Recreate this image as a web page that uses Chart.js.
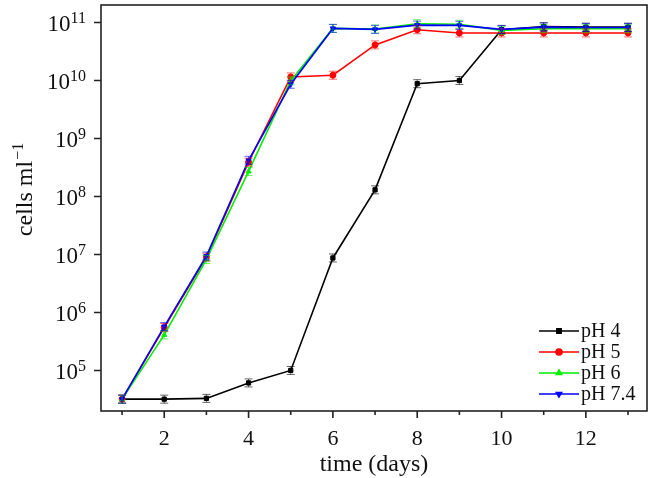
<!DOCTYPE html>
<html>
<head>
<meta charset="utf-8">
<script src="https://cdn.jsdelivr.net/npm/chart.js@4.4.1/dist/chart.umd.min.js"></script>
<style>
  html, body { margin:0; padding:0; background:#fff; }
  #wrap { width:652px; height:478px; position:relative; }
</style>
</head>
<body>
<div id="wrap"><canvas id="growth"></canvas></div>
<script>
// Datos (células por ml vs. días)
const days = [1, 2, 3, 4, 5, 6, 7, 8, 9, 10, 11, 12, 13];
const ph4  = [3.2e4, 3.2e4, 3.3e4, 6.1e4, 1.0e5, 8.7e6, 1.3e8, 8.8e9, 1.0e10, 7.5e10, 8.5e10, 8.3e10, 8.3e10];
const ph5  = [3.2e4, 5.5e5, 9.0e6, 3.9e8, 1.15e10, 1.23e10, 4.1e10, 7.5e10, 6.6e10, 6.6e10, 6.6e10, 6.6e10, 6.6e10];
const ph6  = [3.2e4, 4.1e5, 8.2e6, 2.7e8, 9.8e9, 7.9e10, 7.7e10, 9.5e10, 9.3e10, 7.3e10, 7.8e10, 7.8e10, 7.8e10];
const ph74 = [3.2e4, 5.7e5, 9.4e6, 4.2e8, 8.6e9, 7.9e10, 7.6e10, 9.0e10, 8.9e10, 7.6e10, 8.3e10, 8.2e10, 8.2e10];

const seriesNames = ['pH 4', 'pH 5', 'pH 6', 'pH 7.4'];
const xMajorTicks = [2, 4, 6, 8, 10, 12];
const xMinorTicks = [1, 3, 5, 7, 9, 11, 13];
const yTickExps = [5, 6, 7, 8, 9, 10, 11];

const SERIF = '"Liberation Serif", "Times New Roman", serif';

function pts(vals){ return days.map((d, i) => ({x: d, y: vals[i]})); }

const styles = [
  {color:'#000000', point:'rect', rot:0, order:3},
  {color:'#ff0000', point:'circle', rot:0, order:2},
  {color:'#00ee00', point:'triangle', rot:0, order:1},
  {color:'#0000ff', point:'triangle', rot:180, order:0}
];

const datasets = [ph4, ph5, ph6, ph74].map((vals, i) => ({
  label: seriesNames[i],
  data: pts(vals),
  borderColor: styles[i].color,
  backgroundColor: styles[i].color,
  borderWidth: 1.6,
  pointStyle: styles[i].point,
  rotation: styles[i].rot,
  pointRadius: 3,
  pointBorderWidth: 1,
  tension: 0,
  order: styles[i].order
}));

// pequeñas barras de error (tapas) sobre cada punto
const caps = {
  id: 'caps',
  afterDatasetsDraw(chart){
    const ctx = chart.ctx;
    ctx.save();
    ctx.lineWidth = 1;
    chart.getSortedVisibleDatasetMetas().slice().reverse().forEach(meta => {
      ctx.strokeStyle = chart.data.datasets[meta.index].borderColor;
      ctx.globalAlpha = 0.6;
      ctx.beginPath();
      meta.data.forEach(p => {
        ctx.moveTo(p.x - 4, p.y - 4); ctx.lineTo(p.x + 4, p.y - 4);
        ctx.moveTo(p.x - 4, p.y + 4); ctx.lineTo(p.x + 4, p.y + 4);
        ctx.moveTo(p.x, p.y - 4); ctx.lineTo(p.x, p.y + 4);
      });
      ctx.stroke();
    });
    ctx.restore();
  }
};

// Marco, ticks, etiquetas y leyenda dibujados a mano
const decor = {
  id: 'decor',
  afterDraw(chart){
    const {ctx, chartArea: ca, scales} = chart;
    const xs = scales.x, ys = scales.y;
    ctx.save();
    ctx.strokeStyle = '#222';
    ctx.lineWidth = 1.6;
    ctx.strokeRect(ca.left, ca.top, ca.right - ca.left, ca.bottom - ca.top);

    // ticks
    ctx.beginPath();
    xMajorTicks.forEach(v => { const px = xs.getPixelForValue(v); ctx.moveTo(px, ca.bottom); ctx.lineTo(px, ca.bottom + 7); });
    xMinorTicks.forEach(v => { const px = xs.getPixelForValue(v); ctx.moveTo(px, ca.bottom); ctx.lineTo(px, ca.bottom + 4); });
    yTickExps.forEach(e => { const py = ys.getPixelForValue(Math.pow(10, e)); ctx.moveTo(ca.left, py); ctx.lineTo(ca.left - 7, py); });
    ctx.stroke();

    ctx.fillStyle = '#111';
    ctx.font = '22px ' + SERIF;
    ctx.textAlign = 'center';
    ctx.textBaseline = 'alphabetic';
    xMajorTicks.forEach(v => ctx.fillText(String(v), xs.getPixelForValue(v), ca.bottom + 34));

    // etiquetas y con exponente
    yTickExps.forEach(e => {
      const py = ys.getPixelForValue(Math.pow(10, e));
      const right = ca.left - 15;
      ctx.font = '16px ' + SERIF;
      const expW = ctx.measureText(String(e)).width;
      ctx.textAlign = 'left';
      ctx.fillText(String(e), right - expW, py + 1);
      ctx.font = '23px ' + SERIF;
      ctx.textAlign = 'right';
      ctx.fillText('10', right - expW, py + 9);
    });

    // títulos
    ctx.font = '24px ' + SERIF;
    ctx.textAlign = 'center';
    ctx.fillText('time (days)', (ca.left + ca.right) / 2, ca.bottom + 60);

    ctx.save();
    ctx.translate(32, 190);
    ctx.rotate(-Math.PI / 2);
    ctx.font = '24px ' + SERIF;
    const base = 'cells ml';
    const bw = ctx.measureText(base).width;
    ctx.font = '16px ' + SERIF;
    const sup = '\u22121';
    const sw = ctx.measureText(sup).width;
    const start = -(bw + sw) / 2;
    ctx.textAlign = 'left';
    ctx.font = '24px ' + SERIF;
    ctx.fillText(base, start, 0);
    ctx.font = '16px ' + SERIF;
    ctx.fillText(sup, start + bw + 1, -9);
    ctx.restore();

    // leyenda
    ctx.font = '20px ' + SERIF;
    ctx.textAlign = 'left';
    ctx.textBaseline = 'middle';
    chart.data.datasets.forEach((ds, i) => {
      const y = ca.bottom - 17 - (3 - i) * 21;
      const x0 = ca.right - 108, x1 = ca.right - 68;
      ctx.strokeStyle = ds.borderColor;
      ctx.lineWidth = 1.6;
      ctx.beginPath(); ctx.moveTo(x0, y); ctx.lineTo(x1, y); ctx.stroke();
      ctx.fillStyle = ds.borderColor;
      Chart.helpers.drawPoint(ctx, {pointStyle: ds.pointStyle, rotation: ds.rotation, radius: 3, borderWidth: 1}, (x0 + x1) / 2, y);
      ctx.fillStyle = '#111';
      ctx.fillText(ds.label, x1 + 2, y + 1);
    });
    ctx.restore();
  }
};

new Chart(document.getElementById('growth'), {
  type: 'line',
  data: { datasets },
  options: {
    responsive: true,
    maintainAspectRatio: false,
    animation: false,
    layout: { padding: { left: 101, top: 3, right: 5, bottom: 67 } },
    plugins: { legend: { display: false }, tooltip: { enabled: false } },
    scales: {
      x: { type: 'linear', display: false, min: 0.5, max: 13.45 },
      y: { type: 'logarithmic', display: false, min: 2e4, max: 2e11 }
    }
  },
  plugins: [caps, decor]
});
</script>
</body>
</html>
